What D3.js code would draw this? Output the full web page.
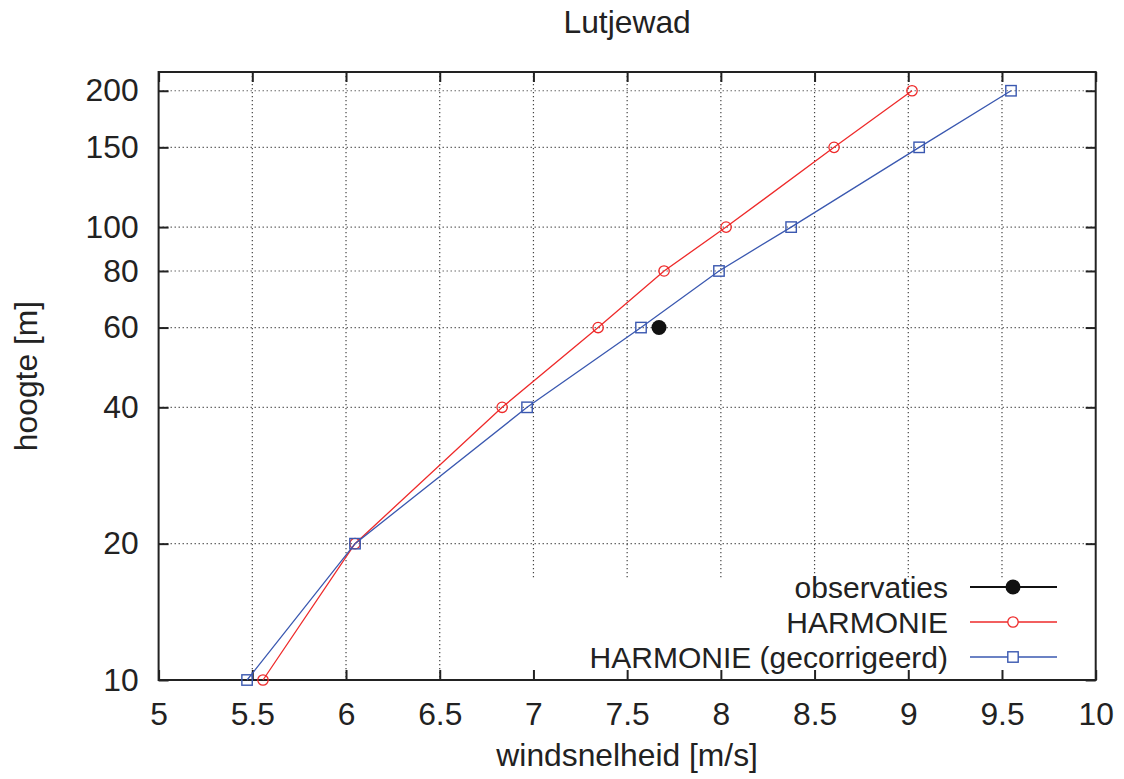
<!DOCTYPE html>
<html><head><meta charset="utf-8">
<script src="https://cdn.jsdelivr.net/npm/d3@7"></script>
<style>body{margin:0;background:#fff}svg{display:block}text{font-family:"Liberation Sans",Arial,sans-serif;fill:#222}</style>
</head><body><svg id="c" width="1124" height="779"></svg>
<script>
const heights = [10, 20, 40, 60, 80, 100, 150, 200];
const harmonie = [5.557, 6.048, 6.833, 7.345, 7.697, 8.028, 8.604, 9.02];
const harmonieCorr = [5.472, 6.048, 6.966, 7.574, 7.99, 8.375, 9.058, 9.548];
const obsHeights = [60];
const obsValues = [7.67];
const xTicks = [5, 5.5, 6, 6.5, 7, 7.5, 8, 8.5, 9, 9.5, 10];
const yTicks = [10, 20, 40, 60, 80, 100, 150, 200];
const legendLabels = ["observaties", "HARMONIE", "HARMONIE (gecorrigeerd)"];

const L = 158.6, R = 1095.7, T = 72, B = 680;
const FS = 31.8, LFS = 30;
const svg = d3.select("#c");
const x = d3.scaleLinear().domain([5, 10]).range([L, R]);
const y = d3.scaleLog().domain([10, 220]).range([B, T]);
const red = "#ee2a2a", blue = "#3a58b0";

// grid
const g = svg.append("g");
g.selectAll(".gx").data(xTicks.slice(1, -1)).enter().append("line")
  .attr("x1", d => x(d)).attr("x2", d => x(d)).attr("y1", T).attr("y2", B)
  .attr("stroke", "#444").attr("stroke-width", 1.2).attr("stroke-dasharray", "1.2,2.8");
g.selectAll(".gy").data(yTicks.slice(1)).enter().append("line")
  .attr("x1", L).attr("x2", R).attr("y1", d => y(d)).attr("y2", d => y(d))
  .attr("stroke", "#444").attr("stroke-width", 1.2).attr("stroke-dasharray", "1.2,2.8");

// legend background blanking grid
svg.append("rect").attr("x", 522).attr("y", 578).attr("width", R - 522 - 1).attr("height", B - 578 - 1).attr("fill", "#fff");

// axes ticks (inward, mirrored)
const tl = 10;
const axB = d3.axisBottom(x).tickValues(xTicks).tickSize(-tl).tickPadding(22).tickFormat(d3.format("~g"));
const axT = d3.axisTop(x).tickValues(xTicks).tickSize(-tl).tickFormat("");
const axL = d3.axisLeft(y).tickValues(yTicks).tickSize(-tl).tickPadding(20).tickFormat(d3.format("d"));
const axR = d3.axisRight(y).tickValues(yTicks).tickSize(-tl).tickFormat("");
function style(sel) {
  sel.select(".domain").remove();
  sel.selectAll(".tick line").attr("stroke", "#222").attr("stroke-width", 2);
  sel.selectAll(".tick text").attr("font-size", FS).attr("fill", "#222")
    .style("font-family", '"Liberation Sans",Arial,sans-serif');
}
svg.append("g").attr("transform", `translate(0,${B})`).call(axB).call(style);
svg.append("g").attr("transform", `translate(0,${T})`).call(axT).call(style);
svg.append("g").attr("transform", `translate(${L},0)`).call(axL).call(style);
svg.append("g").attr("transform", `translate(${R},0)`).call(axR).call(style);

// frame
svg.append("rect").attr("x", L).attr("y", T).attr("width", R - L).attr("height", B - T)
  .attr("fill", "none").attr("stroke", "#222").attr("stroke-width", 2);

// series
const line = d3.line().x(d => x(d[0])).y(d => y(d[1]));
const hData = harmonie.map((v, i) => [v, heights[i]]);
const cData = harmonieCorr.map((v, i) => [v, heights[i]]);
const oData = obsValues.map((v, i) => [v, obsHeights[i]]);

svg.append("path").datum(hData).attr("d", line).attr("fill", "none").attr("stroke", red).attr("stroke-width", 1.3);
svg.selectAll(".hm").data(hData).enter().append("circle")
  .attr("cx", d => x(d[0])).attr("cy", d => y(d[1])).attr("r", 5.2)
  .attr("fill", "none").attr("stroke", red).attr("stroke-width", 1.3);

svg.append("path").datum(cData).attr("d", line).attr("fill", "none").attr("stroke", blue).attr("stroke-width", 1.3);
svg.selectAll(".cm").data(cData).enter().append("rect")
  .attr("x", d => x(d[0]) - 5.2).attr("y", d => y(d[1]) - 5.2).attr("width", 10.4).attr("height", 10.4)
  .attr("fill", "none").attr("stroke", blue).attr("stroke-width", 1.4);

svg.selectAll(".om").data(oData).enter().append("circle")
  .attr("cx", d => x(d[0])).attr("cy", d => y(d[1])).attr("r", 7.5).attr("fill", "#111");

// legend
const ly = [587, 622, 657];
const lx0 = 970, lx1 = 1057, ltx = 948;
legendLabels.forEach((lab, i) => {
  svg.append("text").attr("x", ltx).attr("y", ly[i] + 10.5).attr("text-anchor", "end")
    .attr("font-size", LFS).text(lab);
  const col = i === 0 ? "#111" : i === 1 ? red : blue;
  svg.append("line").attr("x1", lx0).attr("x2", lx1).attr("y1", ly[i]).attr("y2", ly[i])
    .attr("stroke", col).attr("stroke-width", i === 0 ? 2 : 1.3);
  const cx = (lx0 + lx1) / 2 - 0.5;
  if (i === 0) svg.append("circle").attr("cx", cx).attr("cy", ly[i]).attr("r", 7.5).attr("fill", "#111");
  if (i === 1) svg.append("circle").attr("cx", cx).attr("cy", ly[i]).attr("r", 5.2).attr("fill", "#fff").attr("stroke", red).attr("stroke-width", 1.3);
  if (i === 2) svg.append("rect").attr("x", cx - 5.2).attr("y", ly[i] - 5.2).attr("width", 10.4).attr("height", 10.4).attr("fill", "#fff").attr("stroke", blue).attr("stroke-width", 1.4);
});

// titles
svg.append("text").attr("x", (L + R) / 2).attr("y", 33).attr("text-anchor", "middle").attr("font-size", FS).text("Lutjewad");
svg.append("text").attr("x", (L + R) / 2).attr("y", 766).attr("text-anchor", "middle").attr("font-size", FS).text("windsnelheid [m/s]");
svg.append("text").attr("transform", `translate(37,${(T + B) / 2}) rotate(-90)`).attr("text-anchor", "middle").attr("font-size", FS).text("hoogte [m]");
</script></body></html>
